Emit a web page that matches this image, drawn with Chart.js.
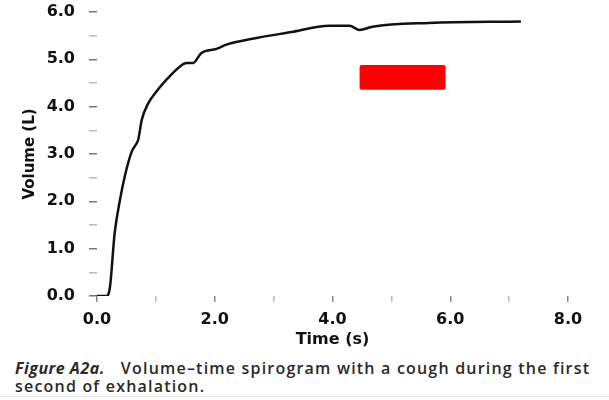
<!DOCTYPE html>
<html>
<head>
<meta charset="utf-8">
<script src="https://cdn.jsdelivr.net/npm/chart.js@4.4.1/dist/chart.umd.min.js"></script>
<style>
  html, body { margin: 0; padding: 0; background: #fff; }
  #wrap { position: relative; width: 609px; height: 400px; overflow: hidden; }
  #c { position: absolute; left: 0; top: 0; }
  #cap { position: absolute; left: 15px; top: 359px; white-space: nowrap; font-family: "Open Sans", sans-serif; font-weight: 600; font-size: 16px; letter-spacing: 1.2px; line-height: 18px; color: #2a2a2a; }
  #cap b { font-style: italic; font-weight: 700; letter-spacing: 0.5px; }
  #rule { position: absolute; left: 0; top: 396px; width: 609px; height: 1px; background: #e2e2e2; }
</style>
</head>
<body>
<div id="wrap">
  <canvas id="c" width="609" height="355"></canvas>
  <div id="cap"><b>Figure A2a.</b>&nbsp;&nbsp; Volume–time spirogram with a cough during the first<br>second of exhalation.</div>
  <div id="rule"></div>
</div>
<script>
// Data
const timeSeconds = [0, 0.17, 0.22, 0.30, 0.39, 0.47, 0.59, 0.66, 0.70, 0.76, 0.87, 1.01, 1.18, 1.41, 1.52, 1.63, 1.77, 2.03, 2.20, 2.71, 3.27, 3.95, 4.29, 4.46, 4.68, 5.64, 7.20];
const volumeLitres = [0, 0, 0.19, 1.33, 2.03, 2.52, 3.05, 3.20, 3.30, 3.72, 4.07, 4.32, 4.57, 4.85, 4.92, 4.92, 5.13, 5.22, 5.31, 5.45, 5.57, 5.71, 5.71, 5.62, 5.69, 5.77, 5.80];
const xTickLabels = ["0.0", "2.0", "4.0", "6.0", "8.0"];
const yTickLabels = ["0.0", "1.0", "2.0", "3.0", "4.0", "5.0", "6.0"];
// redaction box (data units)
const redactTime = [4.46, 5.92];
const redactVolume = [4.36, 4.88];

const redactPlugin = {
  id: 'redact',
  afterDatasetsDraw(chart) {
    const {ctx, scales: {x, y}} = chart;
    const x0 = x.getPixelForValue(redactTime[0]), x1 = x.getPixelForValue(redactTime[1]);
    const y0 = y.getPixelForValue(redactVolume[1]), y1 = y.getPixelForValue(redactVolume[0]);
    ctx.save();
    ctx.fillStyle = '#ff0000';
    ctx.beginPath();
    ctx.roundRect(x0, y0, x1 - x0, y1 - y0, 2);
    ctx.fill();
    ctx.restore();
  }
};

const points = timeSeconds.map((t, i) => ({x: t, y: volumeLitres[i]}));
const tickFont = {family: '"DejaVu Sans", sans-serif', size: 16, weight: 'bold'};

new Chart(document.getElementById('c'), {
  type: 'line',
  data: { datasets: [{ data: points, borderColor: '#111', borderWidth: 2.5, pointRadius: 0, cubicInterpolationMode: 'monotone', fill: false }] },
  options: {
    responsive: false, animation: false,
    layout: { padding: { left: 0, right: 41, top: 12, bottom: 0 } },
    plugins: { legend: { display: false }, tooltip: { enabled: false } },
    scales: {
      x: {
        type: 'linear', min: 0, max: 8,
        border: { display: false },
        grid: { drawOnChartArea: false, drawTicks: true, tickLength: 6, color: ctx => (ctx.tick && ctx.tick.value % 2 === 0) ? '#888' : '#bbb', lineWidth: 1.5 },
        ticks: { stepSize: 1, autoSkip: false, maxRotation: 0, padding: 8, color: '#111', font: tickFont,
          callback: v => (v % 2 === 0) ? xTickLabels[v / 2] : '' },
        title: { display: true, text: 'Time (s)', color: '#111', font: {family: '"DejaVu Sans", sans-serif', size: 16, weight: 'bold'}, padding: {top: 0, bottom: 6} },
        afterFit: s => { s.height = 59; s.paddingLeft = 0; s.paddingRight = 0; }
      },
      y: {
        min: 0, max: 6,
        border: { display: false },
        grid: { drawOnChartArea: false, drawTicks: true, tickLength: 8, color: ctx => (ctx.tick && Number.isInteger(ctx.tick.value)) ? '#777' : '#bbb', lineWidth: 1.5 },
        ticks: { stepSize: 0.5, autoSkip: false, padding: 14, color: '#111', font: tickFont,
          callback: v => Number.isInteger(v) ? yTickLabels[v] : '' },
        title: { display: true, text: 'Volume (L)', color: '#111', font: {family: '"DejaVu Sans", sans-serif', size: 15, weight: 'bold'}, padding: {top: 21, bottom: 0} },
        afterFit: s => { s.width = 97; s.paddingTop = 0; s.paddingBottom = 0; }
      }
    }
  },
  plugins: [redactPlugin]
});
</script>
</body>
</html>
